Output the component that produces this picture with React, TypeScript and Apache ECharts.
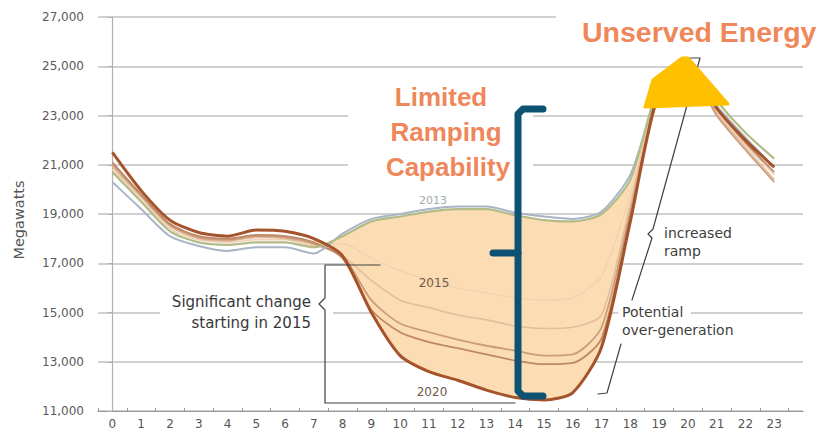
import React, { useEffect, useRef } from 'react';
import * as echarts from 'echarts';

const hours = [0, 1, 2, 3, 4, 5, 6, 7, 8, 9, 10, 11, 12, 13, 14, 15, 16, 17, 18, 19, 20, 21, 22, 23];
const hourTicks = [-0.5, 0.5, 1.5, 2.5, 3.5, 4.5, 5.5, 6.5, 7.5, 8.5, 9.5, 10.5, 11.5, 12.5, 13.5, 14.5, 15.5, 16.5, 17.5, 18.5, 19.5, 20.5, 21.5, 22.5, 23.5];
const bandHours = [7, 8, 9, 10, 11, 12, 13, 14, 15, 16, 17, 18, 19];

const load2012 = [20300, 19200, 18100, 17700, 17500, 17650, 17650, 17400, 18200, 18800, 19000, 19200, 19300, 19300, 19050, 18900, 18800, 19100, 20600, 24000, 25100, 23400, 22100, 20900];
const load2013 = [20700, 19500, 18300, 17850, 17750, 17850, 17850, 17650, 18100, 18700, 18900, 19100, 19200, 19200, 18950, 18750, 18700, 19000, 20400, 24200, 25200, 23600, 22300, 21250];
const load2014 = [20800, 19600, 18400, 17950, 17850, 17950, 17950, 17700, 17800, 17200, 16700, 16300, 16000, 15800, 15600, 15500, 15600, 16500, 19800, 24000, 25000, 23200, 21800, 20600];
const load2015 = [20900, 19700, 18500, 18000, 17900, 18050, 18000, 17750, 17300, 16300, 15500, 15200, 14900, 14700, 14450, 14350, 14400, 14900, 19400, 23900, 25000, 23100, 21700, 20400];
const load2016 = [21000, 19750, 18550, 18050, 17950, 18100, 18050, 17800, 17300, 15500, 14550, 14200, 13900, 13650, 13450, 13250, 13300, 14400, 19100, 23800, 24900, 23000, 21600, 20300];
const load2018 = [21100, 19800, 18600, 18100, 18000, 18150, 18100, 17850, 17200, 15100, 14200, 13800, 13550, 13300, 13050, 12900, 12950, 13950, 18900, 23900, 25000, 23300, 21900, 20700];
const load2020 = [21500, 19950, 18750, 18250, 18100, 18350, 18300, 18000, 17300, 15000, 13250, 12600, 12250, 11850, 11550, 11450, 11750, 13600, 18700, 24000, 25100, 23300, 22000, 20900];

const SMOOTH = 0.25;

function pairs(vals: number[]) {
  return hours.map((h, i) => [h, vals[i]]);
}

function lineSeries(name: string, vals: number[], color: string, width: number) {
  return {
    name,
    type: 'line',
    data: pairs(vals),
    smooth: SMOOTH,
    symbol: 'none',
    lineStyle: { color, width },
    z: 3,
  };
}

const textFont = 'DejaVu Sans';
const boldFont = 'Liberation Sans';
const orange = '#F0875B';
const navy = '#0D5273';
const annot = '#404040';

function txt(text: string, x: number, y: number, size: number, color: string, align: string, bold = false, family = textFont) {
  return {
    type: 'text',
    x,
    y,
    z: 120,
    style: {
      text,
      fill: color,
      fontSize: size,
      fontFamily: family,
      fontWeight: bold ? 'bold' : 'normal',
      align,
      textAlign: align,
      verticalAlign: 'middle',
      textVerticalAlign: 'middle',
    },
  };
}

function whiteBox(x: number, y: number, w: number, h: number) {
  return { type: 'rect', z: 100, shape: { x, y, width: w, height: h }, style: { fill: '#ffffff' } };
}

function pl(points: number[][], color: string, width: number, z = 110) {
  return {
    type: 'polyline',
    z,
    shape: { points },
    style: { stroke: color, lineWidth: width, fill: 'none', lineJoin: 'round', lineCap: 'round' },
  };
}

export default function App() {
  const ref = useRef<HTMLDivElement>(null);
  useEffect(() => {
    const chart = echarts.init(ref.current!, null, { renderer: 'svg' });
    chart.setOption({
      animation: false,
      backgroundColor: '#ffffff',
      grid: { left: 98, right: 14, top: 17, bottom: 30 },
      xAxis: {
        type: 'value',
        min: -0.5,
        max: 24,
        axisLine: { show: true, lineStyle: { color: '#9a9a9a', width: 1.2 } },
        axisTick: { show: true, inside: true, length: 3, customValues: hourTicks, lineStyle: { color: '#9a9a9a' } },
        axisLabel: { customValues: hours, color: '#555', fontSize: 12, fontFamily: textFont, margin: 7 },
        splitLine: { show: false },
      },
      yAxis: {
        type: 'value',
        min: 11000,
        max: 27000,
        interval: 2000,
        axisLine: { show: true, lineStyle: { color: '#b0b0b0', width: 1.2 } },
        axisTick: { show: true, length: 5, lineStyle: { color: '#b0b0b0' } },
        axisLabel: {
          color: '#5a5a5a',
          fontSize: 12,
          fontFamily: textFont,
          margin: 14,
          formatter: (v: number) => v.toLocaleString('en-US'),
        },
        splitLine: { show: true, lineStyle: { color: '#c0c0c0', width: 1.5 } },
      },
      series: [
        {
          name: 'band',
          type: 'custom',
          silent: true,
          z: 1,
          data: [[bandHours[0], load2013[bandHours[0]]]],
          renderItem: (_params: any, api: any) => {
            const upper = bandHours.map((h) => api.coord([h, load2013[h]]));
            const lower = bandHours
              .slice()
              .reverse()
              .map((h) => api.coord([h, load2020[h]]));
            return {
              type: 'polygon',
              shape: { points: upper.concat(lower), smooth: SMOOTH },
              style: { fill: '#FCDDB3', stroke: 'none' },
            };
          },
        },
        lineSeries('2014', load2014, '#F1D2B2', 1.5),
        lineSeries('2015', load2015, '#E2BC9C', 1.6),
        lineSeries('2016', load2016, '#CB9C7C', 1.8),
        lineSeries('2018', load2018, '#BE8866', 1.8),
        lineSeries('2012', load2012, '#A9B5C6', 2),
        lineSeries('2013', load2013, '#B3BC88', 2.2),
        lineSeries('2020', load2020, '#A5532A', 3),
      ],
      graphic: [
        whiteBox(348, 70, 185, 120),
        whiteBox(556, 0, 261, 56),
        whiteBox(160, 290, 173, 45),
        whiteBox(618, 300, 73, 40),
        txt('Unserved Energy', 582, 32, 28.5, orange, 'left', true, boldFont),
        txt('Limited', 441, 97, 26, orange, 'center', true, boldFont),
        txt('Ramping', 446, 132, 26, orange, 'center', true, boldFont),
        txt('Capability', 448, 167, 26, orange, 'center', true, boldFont),
        txt('Significant change', 311, 302, 15, '#383838', 'right'),
        txt('starting in 2015', 311, 323, 15, '#383838', 'right'),
        txt('increased', 664, 233, 14, annot, 'left'),
        txt('ramp', 664, 251, 14, annot, 'left'),
        txt('Potential', 622, 312, 14, annot, 'left'),
        txt('over-generation', 622, 330, 14, annot, 'left'),
        txt('2013', 433, 200, 11, '#A2AAB2', 'center'),
        txt('2015', 434, 283, 12, '#6E5A48', 'center'),
        txt('2020', 432, 392, 12, '#6E5A48', 'center'),
        {
          type: 'text',
          x: 19,
          y: 220,
          rotation: Math.PI / 2,
          z: 120,
          style: {
            text: 'Megawatts',
            fill: '#555',
            fontSize: 14.5,
            fontFamily: textFont,
            align: 'center',
            textAlign: 'center',
            verticalAlign: 'middle',
            textVerticalAlign: 'middle',
          },
        },
        pl([[380, 265], [325, 265], [325, 298], [319, 304], [325, 310], [325, 403], [515, 403]], annot, 1.2),
        pl([[690, 58], [700, 58], [653, 229], [648, 234], [652, 238], [632, 300]], annot, 1.2),
        pl([[621, 344], [607, 393], [598, 394]], annot, 1.2),
        {
          type: 'polygon',
          z: 115,
          shape: { points: [[645, 107], [653, 80], [682, 58], [688, 58], [728, 104]] },
          style: { fill: '#FFC000', stroke: '#FFC000', lineWidth: 3, lineJoin: 'round' },
        },
        pl([[543, 109], [523, 109], [518, 114], [518, 391], [523, 396], [543, 396]], navy, 7, 118),
        pl([[493, 253], [518, 253]], navy, 7, 118),
      ],
    });
    return () => chart.dispose();
  }, []);
  return <div ref={ref} style={{ position: 'fixed', left: 0, top: 0, width: 817, height: 441 }} />;
}
